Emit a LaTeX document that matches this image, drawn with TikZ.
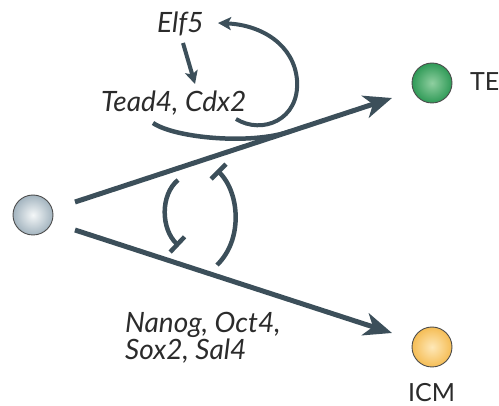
\documentclass[tikz,border=0pt]{standalone}
\usepackage{fontspec}
\setmainfont{Lato}
\usetikzlibrary{arrows.meta}
\definecolor{ink}{HTML}{3C4F5A}
\definecolor{txt}{HTML}{2B2B2B}
\definecolor{greyin}{HTML}{F4F7F8}
\definecolor{greyout}{HTML}{A3B4BF}
\definecolor{greenin}{HTML}{8FCFA0}
\definecolor{greenout}{HTML}{2F9A57}
\definecolor{orin}{HTML}{FEE8B8}
\definecolor{orout}{HTML}{F5BD55}
\tikzset{
  cell/.style={circle, minimum size=40pt, inner sep=0pt, draw=black!70, line width=0.9pt},
  lbl/.style={anchor=base west, inner sep=0pt, text=txt, font=\fontsize{28}{33}\selectfont\itshape},
  celllbl/.style={anchor=base west, inner sep=0pt, text=txt, font=\fontsize{25}{30}\selectfont},
  big/.style={draw=ink, line width=5pt, -{Stealth[length=28pt,width=23pt,inset=8pt]}},
  small/.style={draw=ink, line width=4pt, -{Stealth[length=13pt,width=13pt,inset=3pt]}},
  inhib/.style={draw=ink, line width=4.5pt, -{Bar[width=21pt]}},
  plain/.style={draw=ink, line width=4.5pt}
}
\begin{document}
\begin{tikzpicture}[x=1pt,y=-1pt]
\useasboundingbox (0,0) rectangle (499,406);
% cells
\node[cell, inner color=greyin, outer color=greyout] (stem) at (33,215) {};
\node[cell, inner color=greenin, outer color=greenout] (te) at (432,83) {};
\node[cell, inner color=orin, outer color=orout] (icm) at (432,347) {};
\node[celllbl] (telbl) at (470,91) {TE};
\node[celllbl] (icmlbl) at (408,402) {ICM};
% labels
\node[lbl] (elf) at (157,33) {Elf5};
\node[lbl] (tead) at (101,112) {Tead4, Cdx2};
\node[lbl] (nan1) at (125,333) {Nanog, Oct4,};
\node[lbl] (nan2) at (125,360) {Sox2, Sal4};
% coordinates
\coordinate (us) at (75,202);
\coordinate (ut) at (392,98);
\coordinate (ls) at (75,230);
\coordinate (lt) at (392,333);
\coordinate (e1) at (183,43);
\coordinate (e2) at (195,84);
\coordinate (l1) at (236,119);
\coordinate (l2) at (218,23);
\coordinate (a1) at (153,123);
\coordinate (a2) at (290,131.5);
\coordinate (i1) at (178,180);
\coordinate (i2) at (179,246);
\coordinate (j1) at (217,265);
\coordinate (j2) at (217,170);
% connectors
\draw[big] (us) -- (ut);
\draw[big] (ls) -- (lt);
\draw[small] (e1) -- (e2);
\draw[small] (l1) .. controls (262,135) and (300,120) .. (297,80)
   .. controls (294,45) and (262,25) .. (l2);
\draw[plain] (a1) .. controls (175,138) and (250,145) .. (a2);
\draw[inhib] (i1) .. controls (160,195) and (161,229) .. (i2);
\draw[inhib] (j1) .. controls (243,240) and (240,193) .. (j2);
\end{tikzpicture}
\end{document}
